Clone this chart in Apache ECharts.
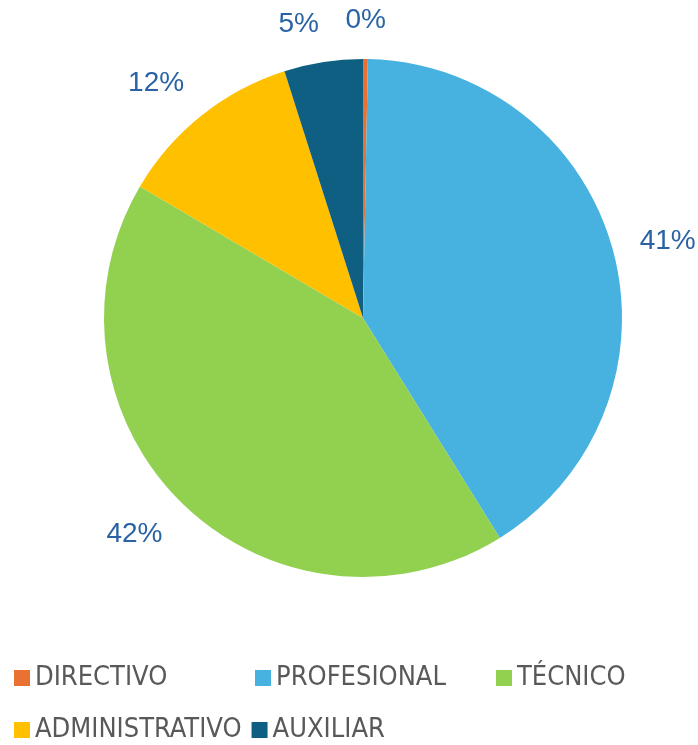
<!DOCTYPE html>
<html>
<head>
<meta charset="utf-8">
<style>
  html, body { margin: 0; padding: 0; background: #fff; }
  #chart { width: 698px; height: 745px; }
</style>
<script src="https://cdn.jsdelivr.net/npm/echarts@6/dist/echarts.min.js"></script>
</head>
<body>
<div id="chart"></div>
<script>
const categories = ['DIRECTIVO', 'PROFESIONAL', 'TÉCNICO', 'ADMINISTRATIVO', 'AUXILIAR']
const shares = [0.3, 40.8, 42.3, 11.6, 4.9]
const colors = ['#E97132', '#47B1E0', '#92D050', '#FFC000', '#0E5F82']
// legend text box widths, so the entries line up in columns
const legendWidths = [210, 210, 110, 200, 110]

const cx = 363
const cy = 318
const R = 259

// mid angle of each slice, clockwise from 12 o'clock
const total = shares.reduce((a, b) => a + b, 0)
const midAngles = []
let acc = 0
shares.forEach(v => {
  midAngles.push(((acc + v / 2) / total) * Math.PI * 2)
  acc += v
})

const chart = echarts.init(document.getElementById('chart'))
chart.setOption({
  animation: false,
  color: colors,
  legend: {
    left: 9,
    top: 652,
    width: 680,
    padding: 5,
    itemWidth: 16,
    itemHeight: 16,
    itemGap: 10,
    icon: 'rect',
    textStyle: {
      fontFamily: 'DejaVu Sans Condensed',
      fontSize: 27,
      lineHeight: 42,
      color: '#595959',
      overflow: 'none'
    },
    data: categories.map((name, i) => ({ name, textStyle: { width: legendWidths[i] } }))
  },
  series: [
    {
      type: 'pie',
      center: [cx, cy],
      radius: R,
      startAngle: 90,
      clockwise: true,
      label: {
        show: true,
        position: 'outside',
        fontFamily: 'Liberation Sans',
        fontSize: 28,
        lineHeight: 21,
        color: '#2A63A3',
        overflow: 'none',
        formatter: p => Math.round(p.value / total * 100) + '%'
      },
      labelLine: { show: false },
      // the label's corner nearest the pie sits just outside the slice edge
      labelLayout: p => {
        const a = midAngles[p.dataIndex]
        const s = Math.sin(a)
        const c = Math.cos(a)
        const d = R + 28
        return {
          x: cx + d * s,
          y: cy - d * c,
          align: Math.abs(s) < 0.05 ? 'center' : (s > 0 ? 'left' : 'right'),
          verticalAlign: Math.abs(c) < 0.4 ? 'middle' : (c > 0 ? 'bottom' : 'top')
        }
      },
      data: categories.map((name, i) => ({ name, value: shares[i] }))
    }
  ]
})
</script>
</body>
</html>
